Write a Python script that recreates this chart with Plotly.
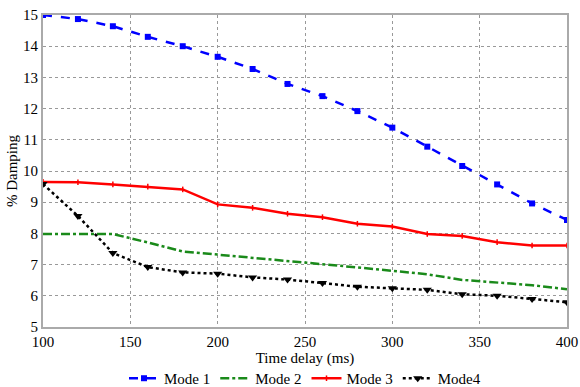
import plotly.graph_objects as go

delay = [100, 120, 140, 160, 180, 200, 220, 240, 260, 280, 300, 320, 340, 360, 380, 400]
mode1 = [15.0, 14.87, 14.64, 14.3, 14.0, 13.66, 13.27, 12.79, 12.40, 11.92, 11.39, 10.78, 10.16, 9.57, 8.96, 8.43]
mode2 = [7.98, 7.98, 7.98, 7.71, 7.42, 7.32, 7.22, 7.13, 7.01, 6.91, 6.80, 6.69, 6.51, 6.43, 6.34, 6.21]
mode3 = [9.65, 9.64, 9.57, 9.50, 9.41, 8.93, 8.82, 8.63, 8.52, 8.31, 8.22, 7.98, 7.92, 7.72, 7.61, 7.61]
mode4 = [9.58, 8.56, 7.37, 6.92, 6.75, 6.71, 6.59, 6.52, 6.41, 6.29, 6.24, 6.19, 6.05, 6.00, 5.90, 5.79]

xticks = [100, 150, 200, 250, 300, 350, 400]
yticks = [5, 6, 7, 8, 9, 10, 11, 12, 13, 14, 15]

font = "Liberation Serif"

fig = go.Figure()
fig.add_trace(go.Scatter(x=delay, y=mode1, name="Mode 1", mode="lines+markers",
                         line=dict(color="#0000ff", width=2.5, dash="dash"),
                         marker=dict(symbol="square", size=6, color="#0000ff")))
fig.add_trace(go.Scatter(x=delay, y=mode2, name="Mode 2", mode="lines",
                         line=dict(color="#1a8a1a", width=2.5, dash="dashdot")))
fig.add_trace(go.Scatter(x=delay, y=mode3, name="Mode 3", mode="lines+markers",
                         line=dict(color="#ff0000", width=2.5),
                         marker=dict(symbol="line-ns", size=4, color="#ff0000",
                                     line=dict(color="#ff0000", width=1.5))))
fig.add_trace(go.Scatter(x=delay, y=mode4, name="Mode4", mode="lines+markers",
                         line=dict(color="#000000", width=2.5, dash="dot"),
                         marker=dict(symbol="triangle-down", size=8, color="#000000")))

axis_common = dict(showgrid=True, gridcolor="#999999", griddash="dot", gridwidth=1,
                   showline=True, linecolor="#aaaaaa", linewidth=2, mirror=True,
                   ticks="", zeroline=False, automargin=False,
                   tickfont=dict(family=font, size=15, color="#000000"))

fig.update_xaxes(range=[100, 400], tickvals=xticks, **axis_common,
                 title=dict(text="Time delay (ms)", font=dict(family=font, size=15, color="#000000"),
                            standoff=0))
fig.update_yaxes(range=[5, 15], tickvals=yticks, **axis_common,
                 title=dict(text="% Damping", font=dict(family=font, size=15, color="#000000"),
                            standoff=2))

fig.update_layout(
    width=580, height=387,
    margin=dict(l=43, r=13, t=15, b=60, autoexpand=False),
    plot_bgcolor="white", paper_bgcolor="white",
    font=dict(family=font, size=15, color="#000000"),
    legend=dict(orientation="h", x=0.5, xanchor="center", y=-0.165, yanchor="middle",
                font=dict(family=font, size=15, color="#000000"),
                itemwidth=30, tracegroupgap=0, bgcolor="rgba(0,0,0,0)"),
)

fig.write_html("out.html", config={"displayModeBar": False},
               post_script="document.body.style.margin='0';document.body.style.overflow='hidden';")
